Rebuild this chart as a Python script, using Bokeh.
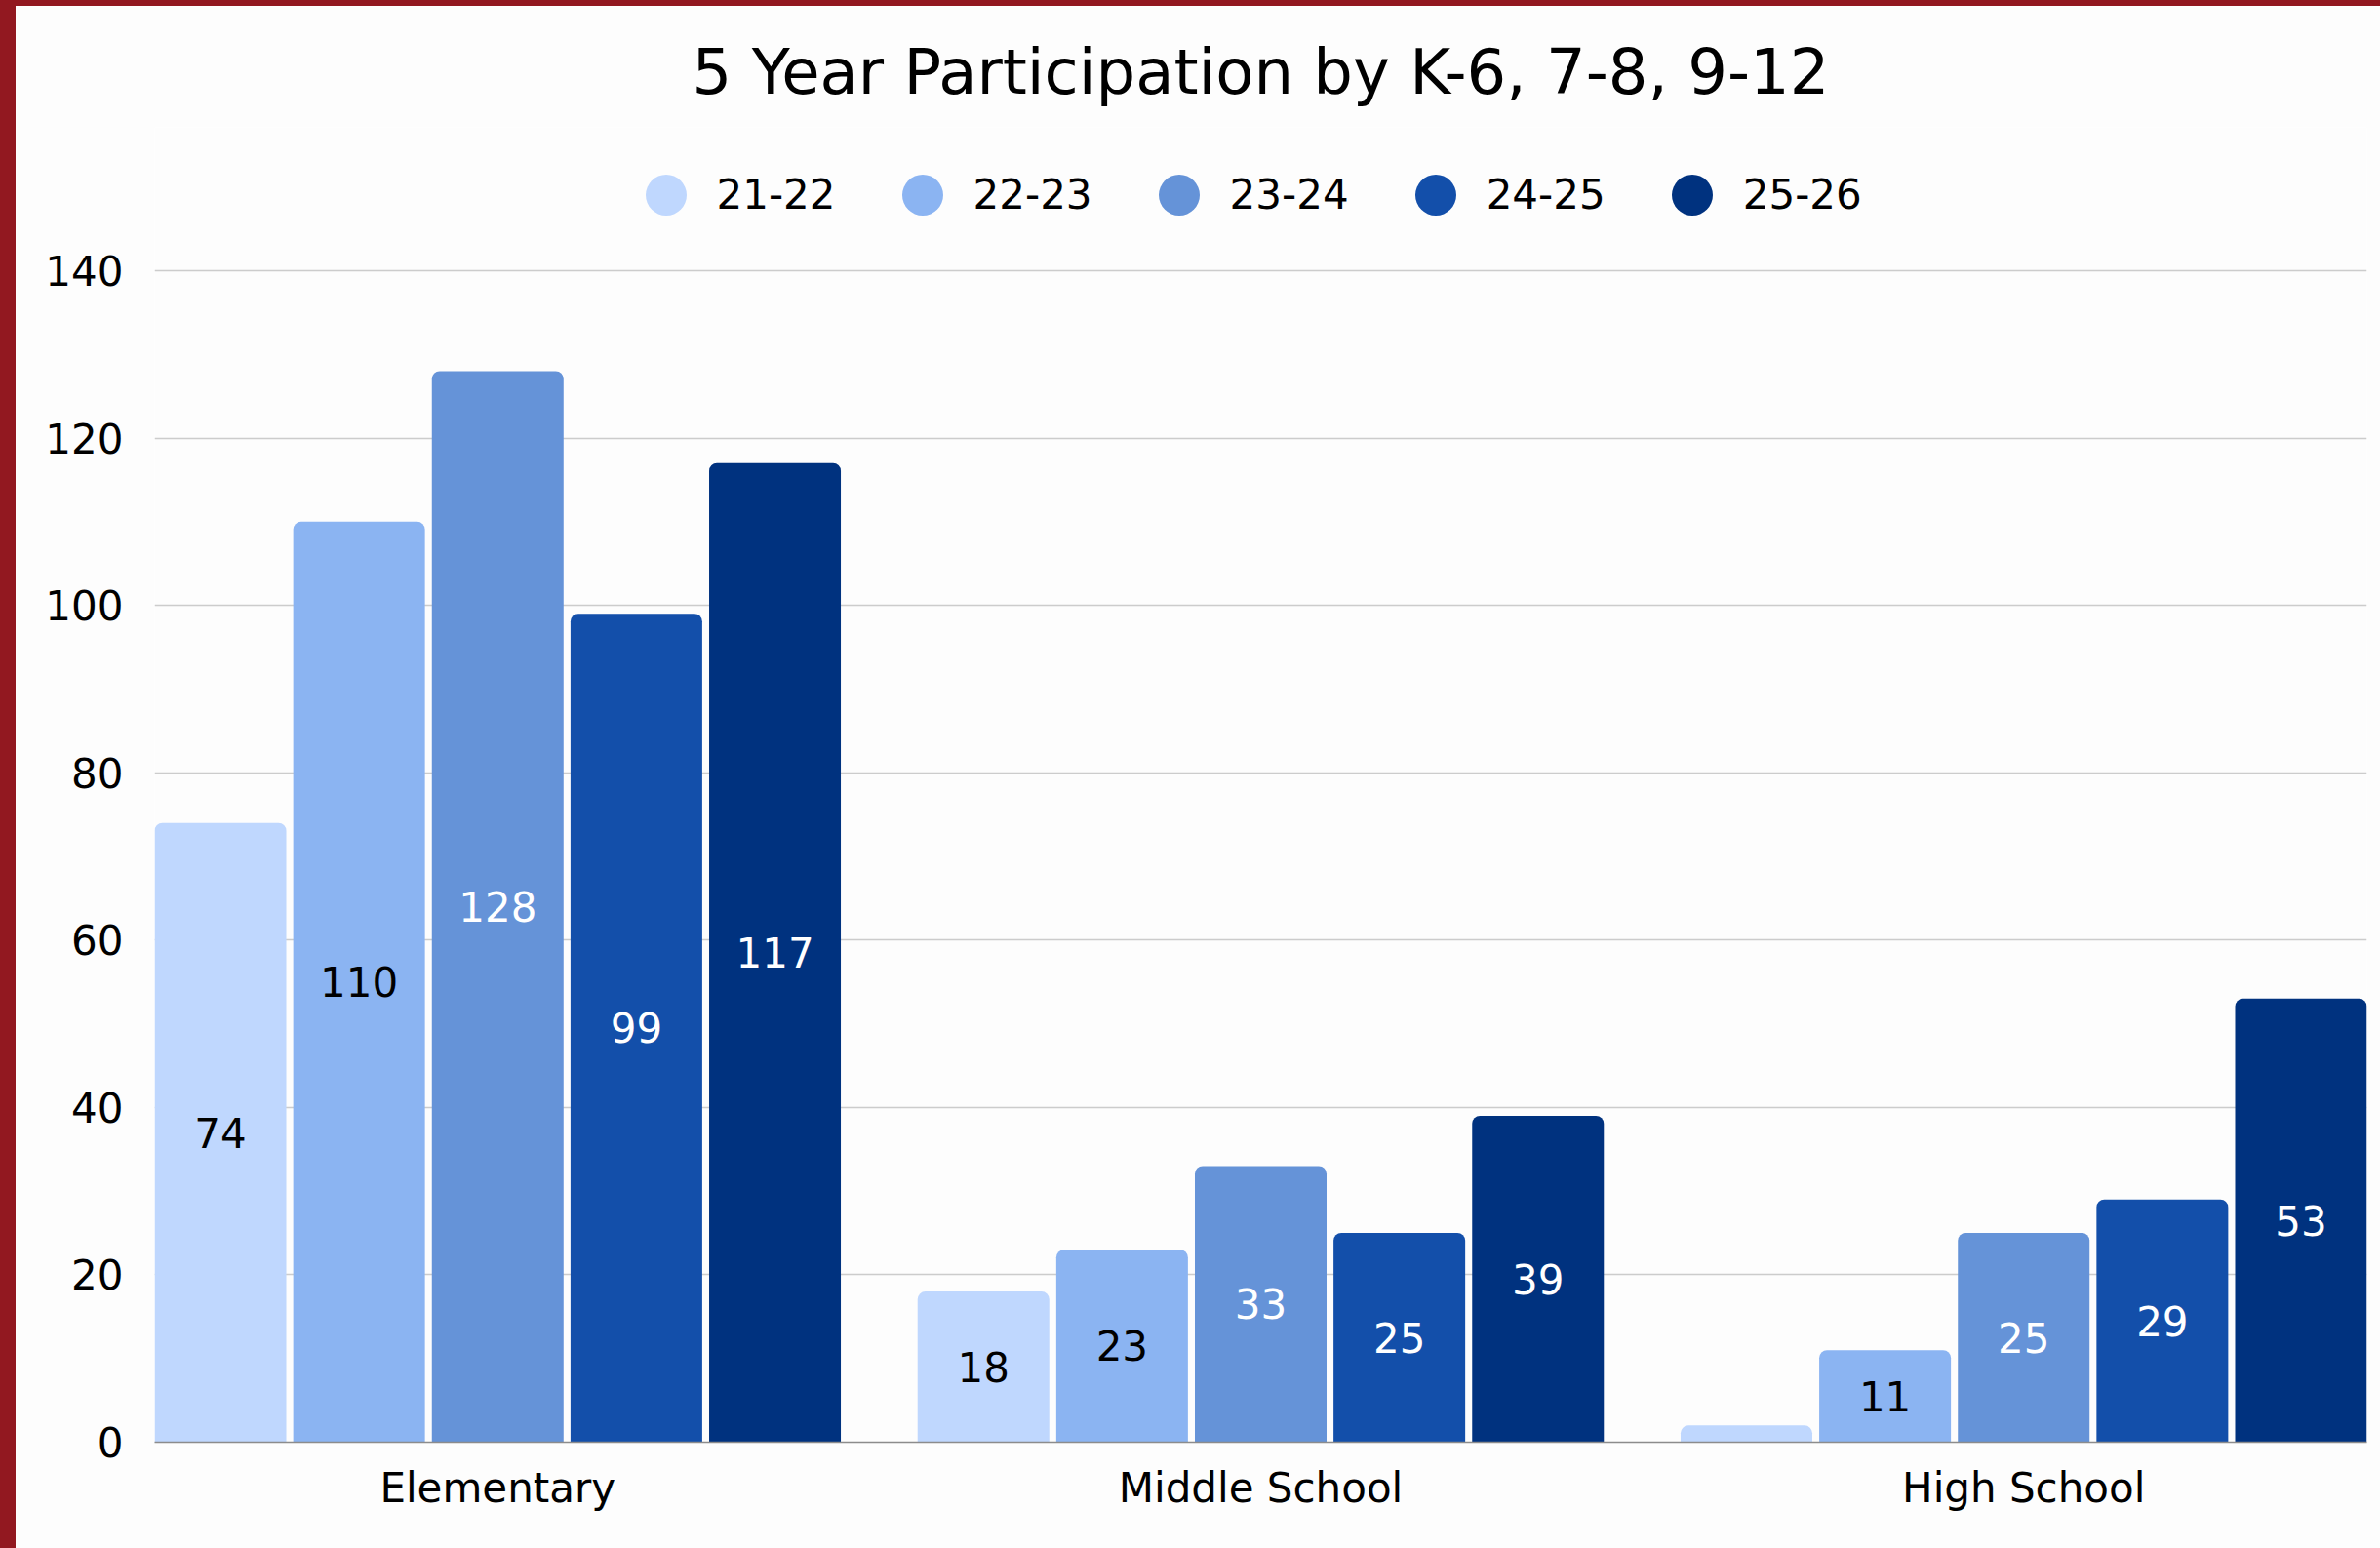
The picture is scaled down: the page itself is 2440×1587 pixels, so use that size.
from bokeh.plotting import figure
from bokeh.models import ColumnDataSource, FactorRange, Range1d, Legend, LegendItem, Div
from bokeh.layouts import column, row
from bokeh.transform import dodge
from bokeh.core.properties import value
from bokeh.embed import file_html
from bokeh.resources import INLINE

categories = ["Elementary", "Middle School", "High School"]
years = ["21-22", "22-23", "23-24", "24-25", "25-26"]
v_21_22 = [74, 18, 2]
v_22_23 = [110, 23, 11]
v_23_24 = [128, 33, 25]
v_24_25 = [99, 25, 29]
v_25_26 = [117, 39, 53]
y_ticks = [0, 20, 40, 60, 80, 100, 120, 140]
colors = ["#BFD7FE", "#8BB4F2", "#6593D8", "#134FAA", "#00327F"]
label_colors = ["#000000", "#000000", "#ffffff", "#ffffff", "#ffffff"]
series = [v_21_22, v_22_23, v_23_24, v_24_25, v_25_26]

FONT = "DejaVu Sans"
RED = "#921820"
BG = "#fdfdfd"
W, H = 2424, 1581
SMALL = "42px"

p = figure(
    x_range=FactorRange(factors=categories, range_padding=-0.0503, range_padding_units="absolute"),
    y_range=Range1d(0, 157.13),
    width=W, height=H, output_backend="svg", toolbar_location=None,
    min_border_left=142, min_border_right=14, min_border_top=124, min_border_bottom=109,
    background_fill_color=BG, border_fill_color=BG, outline_line_color=None,
)

pitch = 0.1817
bw = 0.1726
items = []
for i, (yr, vals) in enumerate(zip(years, series)):
    src = ColumnDataSource(dict(
        cat=categories, val=vals,
        half=[v / 2 for v in vals],
        txt=[str(v) if v >= 5 else "" for v in vals],
    ))
    off = (i - 2) * pitch
    xs = dodge("cat", off, range=p.x_range)
    p.vbar(x=xs, top="val", width=bw, source=src,
           fill_color=colors[i], line_color=None, border_radius=(8, 8, 0, 0))
    p.text(x=xs, y="half", text="txt", source=src,
           text_font=value(FONT), text_font_size=SMALL, text_color=label_colors[i],
           text_align="center", text_baseline="middle")
    d = p.scatter(x=xs, y="val", source=src, size=0, marker="circle",
                  fill_color=colors[i], line_color=None)
    items.append(LegendItem(label=yr, renderers=[d]))

legend = Legend(items=items, orientation="horizontal", location=(471.5, 1226.5),
                glyph_width=105, glyph_height=105, label_standoff=0, spacing=36,
                padding=0, margin=0, border_line_color=None, background_fill_alpha=0,
                label_text_font=FONT, label_text_font_size=SMALL, label_text_color="#000000")
p.add_layout(legend)

p.title.text = "5 Year Participation by K-6, 7-8, 9-12"
p.title.text_font = FONT
p.title.text_font_size = "64px"
p.title.text_font_style = "normal"
p.title.text_color = "#000000"
p.title.align = "center"
p.title.standoff = 39

p.yaxis.ticker = y_ticks
p.yaxis.axis_line_color = None
p.yaxis.major_tick_line_color = None
p.yaxis.minor_tick_line_color = None
p.yaxis.major_label_standoff = 26
p.yaxis.major_label_text_font = FONT
p.yaxis.major_label_text_font_size = SMALL
p.yaxis.major_label_text_color = "#000000"

p.xaxis.axis_line_color = "#8c8c8c"
p.xaxis.axis_line_width = 1.5
p.xaxis.major_tick_line_color = None
p.xaxis.major_label_standoff = 16
p.xaxis.major_label_text_font = FONT
p.xaxis.major_label_text_font_size = SMALL
p.xaxis.major_label_text_color = "#000000"

p.xgrid.grid_line_color = None
p.ygrid.grid_line_color = "#cccccc"
p.ygrid.grid_line_width = 1.5

top_bar = Div(width=2440, height=6, margin=0, styles={"background-color": RED})
left_bar = Div(width=16, height=H, margin=0, styles={"background-color": RED})
layout = column(top_bar, row(left_bar, p, spacing=0), spacing=0)

open("out.html", "w").write(file_html(layout, INLINE))
